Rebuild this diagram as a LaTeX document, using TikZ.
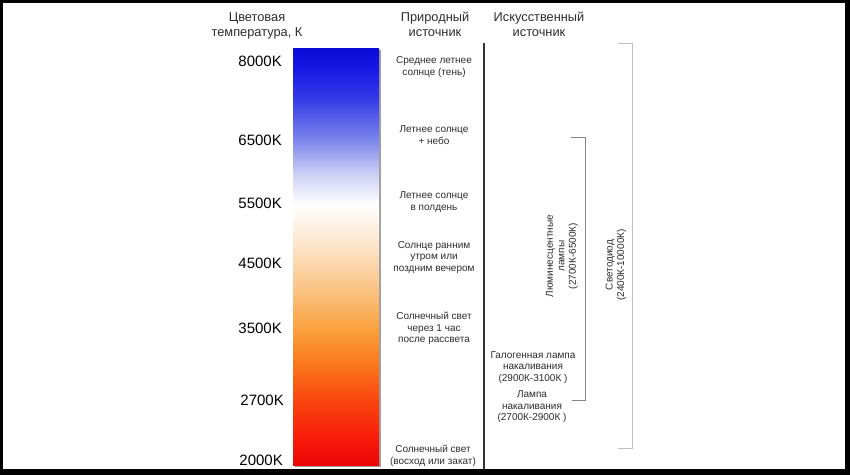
\documentclass[tikz,border=0pt]{standalone}
\usepackage{fontspec}
\setmainfont{Liberation Sans}
\usetikzlibrary{positioning}

\definecolor{kRed}{RGB}{235,5,5}
\definecolor{kRedA}{RGB}{248,25,10}
\definecolor{kRedB}{RGB}{250,70,15}
\definecolor{kOrA}{RGB}{250,125,30}
\definecolor{kOrB}{RGB}{250,160,60}
\definecolor{kPeachA}{RGB}{250,195,130}
\definecolor{kPeachB}{RGB}{252,225,195}
\definecolor{kLav}{RGB}{205,210,245}
\definecolor{kBlueA}{RGB}{120,130,235}
\definecolor{kBlueB}{RGB}{55,60,230}
\definecolor{kBlueC}{RGB}{25,25,230}
\definecolor{kBlue}{RGB}{10,10,215}
\definecolor{txt}{RGB}{45,45,45}

\pgfdeclareverticalshading{kelvinbar}{100bp}{color(0bp)=(kRed); color(25bp)=(kRed);
  color(28bp)=(kRedA); color(32.8bp)=(kRedB); color(37.6bp)=(kOrA); color(41.2bp)=(kOrB);
  color(46bp)=(kPeachA); color(50.8bp)=(kPeachB); color(56.2bp)=(white); color(59.8bp)=(kLav);
  color(64.2bp)=(kBlueA); color(68.8bp)=(kBlueB); color(72.4bp)=(kBlueC); color(75bp)=(kBlue);
  color(100bp)=(kBlue)}

\tikzset{every node/.style={inner sep=0pt, align=center}}
\tikzstyle{head}=[text=txt, font=\fontsize{12.8}{15}\selectfont]
\tikzstyle{kval}=[anchor=east, font=\fontsize{15}{16}\selectfont]
\tikzstyle{src}=[text=txt, font=\fontsize{10}{11.5}\selectfont]
\tikzstyle{bracket}=[line width=1pt]

\begin{document}
\begin{tikzpicture}[x=1pt, y=-1pt]
            \useasboundingbox (0,0) rectangle (850,475);
            \fill [black] (0,0) rectangle (850,475);
            \fill [white] (3,3) rectangle (845,469);

            % colour bar
            \fill [gray!75] (295,50) rectangle (381,467);
            \shade [shading=kelvinbar] (293,48) rectangle (379,465);

            % column heads
            \node [head] (hTemp) at (257,26) {Цветовая\\температура, К};
            \node [head] (hNat) at (435,24) {Природный\\источник};
            \node [head] (hArt) at (539,24) {Искусственный\\источник};

            % temperature values
            \node [kval] (k8000) at (282,61) {8000K};
            \node [kval] (k6500) at (282,140) {6500K};
            \node [kval] (k5500) at (282,203) {5500K};
            \node [kval] (k4500) at (282,263) {4500K};
            \node [kval] (k3500) at (282,328) {3500K};
            \node [kval] (k2700) at (284,400) {2700K};
            \node [kval] (k2000) at (283,460) {2000K};

            % natural sources
            \node [src] (nShade) at (434,67) {Среднее летнее\\солнце (тень)};
            \node [src] (nSky) at (434,135) {Летнее солнце\\+ небо};
            \node [src] (nNoon) at (434,202) {Летнее солнце\\в полдень};
            \node [src] (nEvening) at (434,257.5) {Солнце ранним\\утром или\\поздним вечером};
            \node [src] (nHour) at (434,328.5) {Солнечный свет\\через 1 час\\после рассвета};
            \node [src] (nSunset) at (433,456) {Солнечный свет\\(восход или закат)};

            % separator
            \coordinate (sepTop) at (484,43);
            \coordinate (sepBot) at (484,469);
            \draw [line width=1.5pt, black!80] (sepTop) -- (sepBot);

            % artificial sources
            \node [src] (aHalogen) at (533,367.5) {Галогенная лампа\\накаливания\\(2900К-3100К )};
            \node [src] (aLamp) at (532,407) {Лампа\\накаливания\\(2700К-2900К )};
            \node [src, rotate=90] (aFluo) at (562,256) {Люминесцентные\\лампы\\(2700К-6500К)};
            \node [src, rotate=90] (aLed) at (616,265) {Светодиод\\(2400К-10000К)};

            \coordinate (fluoTop) at (571,137);
            \coordinate (fluoBot) at (572,400);
            \draw [bracket, black!48] (fluoTop) -| (585,400) -- (fluoBot);
            \coordinate (ledTop) at (618,43);
            \coordinate (ledBot) at (618,448);
            \draw [bracket, black!25] (ledTop) -| (632,448) -- (ledBot);
        \end{tikzpicture}
\end{document}
